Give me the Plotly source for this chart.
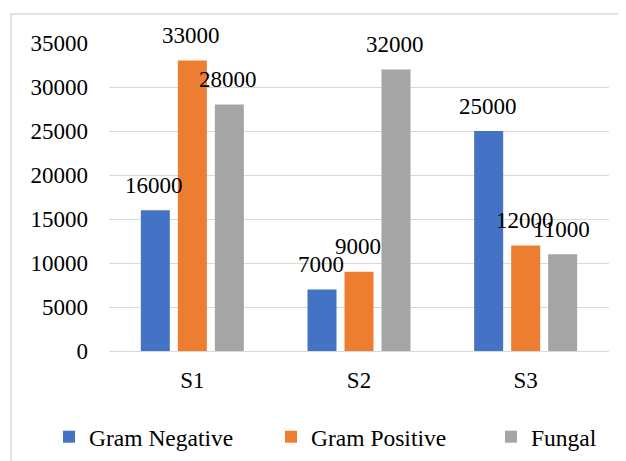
import plotly.graph_objects as go

categories = ["S1", "S2", "S3"]
gram_negative = [16000, 7000, 25000]
gram_positive = [33000, 9000, 12000]
fungal = [28000, 32000, 11000]
series_names = ["Gram Negative", "Gram Positive", "Fungal"]
colors = ["#4472C4", "#ED7D31", "#A5A5A5"]
series_values = [gram_negative, gram_positive, fungal]

FONT = "Times New Roman, Liberation Serif, serif"
# page body has an 8px margin, so the figure's margins are offset by it
ML, MR, MT, MB = 101, 25, 35, 118
W, H = 626, 461
BARGAP, GROUPGAP = 0.334, 0.216
legend_ids = ["legend", "legend2", "legend3"]
legend_x = [-0.12, 0.324, 0.764]

fig = go.Figure()
for name, vals, col, lid in zip(series_names, series_values, colors, legend_ids):
    fig.add_trace(go.Bar(
        x=categories, y=vals, name=name, marker_color=col, marker_line_width=0,
        legend=lid,
    ))

# data labels as annotations (offset to each bar of the group)
plot_w = W - ML - MR
slot = plot_w / len(categories) * (1 - BARGAP) / len(series_names)
annotations = []
for i, vals in enumerate(series_values):
    for c, v in zip(categories, vals):
        annotations.append(dict(
            x=c, y=v, xref="x", yref="y", text=str(v), showarrow=False,
            xshift=(i - 1) * slot - 1, yshift=25, yanchor="middle", xanchor="center",
            font=dict(family=FONT, size=23, color="black"),
        ))

legend_style = dict(orientation="h", xanchor="left", y=-0.279, yanchor="middle",
                    font=dict(family=FONT, size=23.5, color="black"), itemwidth=30,
                    bgcolor="rgba(0,0,0,0)")

fig.update_layout(
    width=W, height=H,
    margin=dict(l=ML, r=MR, t=MT, b=MB, autoexpand=False),
    paper_bgcolor="white", plot_bgcolor="white",
    font=dict(family=FONT, size=23, color="black"),
    barmode="group", bargap=BARGAP, bargroupgap=GROUPGAP,
    showlegend=True,
    legend=dict(x=legend_x[0], **legend_style),
    legend2=dict(x=legend_x[1], **legend_style),
    legend3=dict(x=legend_x[2], **legend_style),
    xaxis=dict(showgrid=False, showline=False, ticks="", ticklabelstandoff=13,
               tickfont=dict(family=FONT, size=23)),
    yaxis=dict(range=[0, 35000], dtick=5000, tickformat="d", showgrid=True, gridcolor="#d9d9d9", gridwidth=1.3,
               zeroline=True, zerolinecolor="#d9d9d9", zerolinewidth=1.3,
               showline=False, ticks="", ticklabelstandoff=20,
               tickfont=dict(family=FONT, size=23)),
    annotations=annotations,
    shapes=[dict(type="rect", xref="paper", yref="paper", x0=-0.196, x1=1.06, y0=-0.42, y1=1.094,
                 line=dict(color="#d9d9d9", width=1.5), fillcolor="rgba(0,0,0,0)", layer="below")],
)

fig.write_html("out.html")
